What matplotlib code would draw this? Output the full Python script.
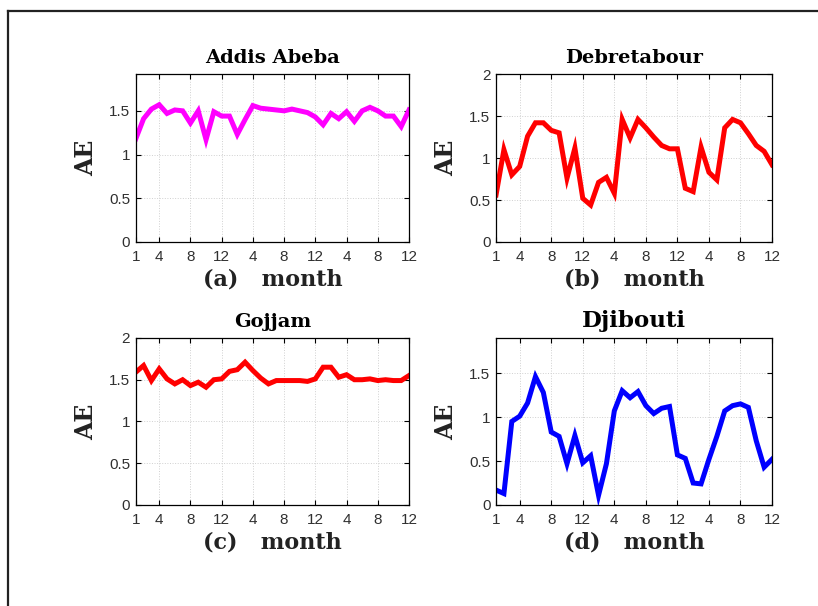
import matplotlib.pyplot as plt
from matplotlib.lines import Line2D

months=list(range(1,37))
xtick_pos=[1,4,8,12,16,20,24,28,32,36]
xtick_lab=["1","4","8","12","4","8","12","4","8","12"]

# ---------------- DATA ----------------

addis=[1.18,1.41,1.52,1.57,1.47,1.51,1.50,1.36,1.50,1.17,1.49,1.44,
       1.44,1.23,1.40,1.56,1.53,1.52,1.51,1.50,1.52,1.50,1.48,1.43,
       1.34,1.47,1.41,1.49,1.38,1.50,1.54,1.50,1.44,1.44,1.32,1.51]

debre=[0.56,1.10,0.80,0.90,1.26,1.42,1.42,1.33,1.30,0.76,1.12,0.52,
       0.44,0.71,0.77,0.58,1.46,1.24,1.46,1.36,1.25,1.15,1.11,1.11,
       0.64,0.60,1.13,0.83,0.74,1.36,1.46,1.42,1.29,1.15,1.08,0.92]

gojjam=[1.59,1.67,1.49,1.63,1.51,1.45,1.50,1.43,1.47,1.41,1.50,1.51,
        1.60,1.62,1.71,1.61,1.52,1.45,1.49,1.49,1.49,1.49,1.48,1.51,
        1.65,1.65,1.53,1.56,1.50,1.50,1.51,1.49,1.50,1.49,1.49,1.55]

djibouti=[0.17,0.13,0.95,1.01,1.16,1.46,1.28,0.83,0.78,0.47,0.79,0.48,
          0.56,0.11,0.47,1.07,1.30,1.22,1.29,1.13,1.04,1.10,1.12,0.57,
          0.53,0.25,0.24,0.52,0.78,1.07,1.13,1.15,1.11,0.73,0.43,0.52]

titles=["Addis Abeba","Debretabour","Gojjam","Djibouti"]
letters=["(a)","(b)","(c)","(d)"]
series=[addis,debre,gojjam,djibouti]
colors=["#ff00ff","#ff0000","#ff0000","#0000ff"]
ymax=[1.92,2.0,2.0,1.9]
title_size=[14,14,14,16.5]

# ---------------- PLOT ----------------

fig=plt.figure(figsize=(8.18,6.06),dpi=100)
fig.patch.set_facecolor("white")

# frame around the figure (only top and left visible)
fig.add_artist(Line2D([8/818,1.0],[1-11/606,1-11/606],color="#222222",lw=1.6))
fig.add_artist(Line2D([8/818,8/818],[0,1-11/606],color="#222222",lw=1.6))

boxes=[[0.166,0.6007,0.334,0.277],
       [0.6064,0.6007,0.3374,0.277],
       [0.166,0.1667,0.334,0.2756],
       [0.6064,0.1667,0.3374,0.2756]]

for i in range(4):
    ax=fig.add_axes(boxes[i])
    ax.plot(months,series[i],color=colors[i],lw=3.6,solid_joinstyle="miter")
    ax.set_xlim(1,36)
    ax.set_ylim(0,ymax[i])
    ax.set_yticks([0,0.5,1,1.5] if ymax[i]<2 else [0,0.5,1,1.5,2])
    ax.set_yticklabels(["0","0.5","1","1.5"] if ymax[i]<2 else ["0","0.5","1","1.5","2"])
    ax.set_xticks(xtick_pos)
    ax.set_xticklabels(xtick_lab)
    ax.grid(True,linestyle=":",color="#d0d0d0",lw=0.7)
    ax.tick_params(direction="in",top=True,right=True,length=3.5,width=0.8,
                   labelsize=11,labelcolor="#303030",pad=4)
    ax.tick_params(axis="x",pad=6)
    for s in ax.spines.values():
        s.set_linewidth(0.9)
    ax.set_title(titles[i],family="DejaVu Serif",fontweight="bold",
                 fontsize=title_size[i],pad=8)
    ax.set_xlabel(letters[i]+"   month",family="DejaVu Serif",fontweight="bold",
                  fontsize=16,color="#222222",labelpad=3)
    ax.set_ylabel("AE",family="DejaVu Serif",fontweight="bold",fontsize=17,
                  color="#222222",labelpad=8)
    for lab in ax.get_xticklabels()+ax.get_yticklabels():
        lab.set_family("Liberation Sans")

plt.savefig("out.png",dpi=100)
